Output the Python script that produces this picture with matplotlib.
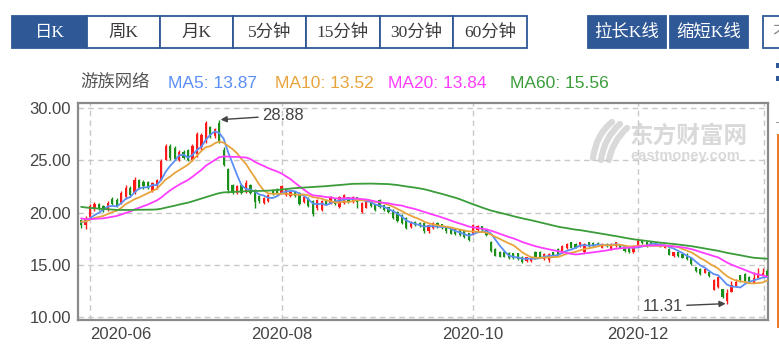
import numpy as np
import matplotlib
matplotlib.use('Agg')
import matplotlib.pyplot as plt
from matplotlib.patches import Rectangle, PathPatch
from matplotlib.path import Path

plt.rcParams['font.family'] = ['Liberation Sans', 'Noto Sans CJK SC', 'DejaVu Sans']

# ---------------- data ----------------
stock_name = '游族网络'
warmup_close = [23.0, 22.8, 22.5, 22.9, 22.6, 22.4, 22.7,
                22.5, 22.1, 22.3, 21.9, 22.4, 22.0, 22.2, 22.6, 22.1, 21.8,
                20.9, 20.2, 19.8, 19.5, 19.3, 19.6, 19.4, 19.1, 19.5, 19.8, 19.6, 19.9, 20.1, 19.7,
                20.2, 20.6, 20.9, 21.2, 21.0, 20.7, 21.1, 20.8, 20.5, 20.9, 20.6, 20.3, 19.9, 19.7,
                19.5, 19.3, 19.0, 19.2, 19.4, 19.1, 18.9, 19.2, 19.4, 19.3, 19.0, 19.1, 19.3, 19.2]

open_ = [19.3, 18.8, 19.6, 20.4, 20.8, 20.6, 20.3, 21.3, 21.2, 20.9, 21.5, 22.4, 21.9, 23.1, 22.9, 22.9,
         22.1, 22.5, 23.1, 25.0, 26.4, 26.2, 25.0, 25.8, 26.0, 25.0, 25.6, 26.3, 26.9, 28.2, 27.3, 28.6,
         26.0, 24.2, 22.6, 21.9, 22.6, 22.0, 22.6, 22.1, 21.6, 20.9, 21.1, 22.2, 22.3, 21.9, 21.7, 21.6,
         22.0, 21.9, 21.0, 21.4, 21.1, 20.4, 20.3, 21.2, 20.9, 21.3, 20.5, 20.9, 21.5, 21.0, 21.5, 20.1,
         20.4, 21.0, 20.8, 21.2, 20.7, 20.5, 20.3, 20.1, 19.8, 19.5, 18.6, 19.1, 19.0, 19.0, 18.2, 18.5,
         19.0, 18.9, 18.7, 18.5, 18.4, 18.3, 18.25, 18.1, 17.9, 18.3, 18.7, 18.3, 17.2, 16.5, 16.25, 16.2,
         16.15, 16.1, 16.1, 15.8, 15.35, 15.4, 16.2, 16.2, 15.55, 15.45, 16.2, 16.5, 16.15, 16.6, 17.15, 17.0,
         16.8, 16.2, 17.15, 17.1, 17.1, 16.65, 17.05, 16.5, 16.8, 16.9, 16.7, 16.7, 16.2, 16.95, 17.35, 17.2,
         17.15, 17.05, 17.05, 16.65, 16.55, 15.85, 16.2, 16.05, 16.0, 15.75, 14.8, 14.65, 14.25, 14.3, 12.65, 12.85,
         12.7, 11.55, 12.45, 12.95, 14.0, 14.1, 13.85, 13.3, 13.8, 13.95, 14.4]
high = [19.4, 19.7, 20.8, 21.0, 20.9, 20.7, 21.1, 21.5, 21.4, 22.1, 22.6, 22.5, 23.4, 23.2, 23.1, 23.0,
        22.9, 23.2, 25.1, 26.6, 26.6, 26.4, 26.0, 26.0, 26.1, 26.6, 27.7, 27.6, 28.75, 28.3, 28.1, 28.88,
        26.3, 24.3, 22.7, 22.6, 22.7, 23.1, 22.7, 22.3, 21.7, 21.5, 21.8, 22.3, 22.4, 22.6, 22.3, 22.1,
        22.1, 22.0, 21.6, 21.5, 21.2, 21.3, 21.2, 21.3, 21.6, 21.3, 21.6, 21.8, 21.5, 21.6, 21.5, 21.0,
        21.2, 21.1, 20.8, 21.3, 20.7, 20.5, 20.35, 20.2, 19.9, 19.6, 19.2, 19.2, 19.1, 19.1, 18.9, 19.1,
        19.1, 18.9, 18.75, 18.6, 18.4, 18.3, 18.3, 18.1, 18.9, 18.85, 18.75, 18.35, 17.3, 16.6, 16.3, 16.3,
        16.2, 16.15, 16.15, 15.85, 15.8, 15.8, 16.3, 16.3, 16.1, 16.1, 16.27, 16.6, 16.9, 17.07, 17.23, 17.07,
        17.23, 17.07, 17.23, 17.2, 17.2, 17.07, 17.07, 17.07, 17.23, 16.91, 16.75, 16.75, 16.91, 17.39, 17.39, 17.23,
        17.23, 17.07, 17.07, 16.91, 16.59, 16.27, 16.27, 16.11, 16.11, 15.8, 14.84, 14.68, 14.68, 14.36, 13.65, 13.95,
        12.75, 12.75, 13.45, 13.65, 14.05, 14.25, 13.9, 14.35, 14.7, 14.7, 14.6]
low = [18.5, 18.4, 19.5, 20.2, 20.3, 20.1, 20.2, 20.7, 20.5, 20.8, 21.3, 21.5, 21.8, 22.3, 22.3, 22.3,
       22.0, 22.3, 23.1, 25.0, 25.0, 25.0, 24.9, 25.1, 24.9, 24.9, 25.3, 26.0, 26.7, 27.1, 27.1, 26.7,
       24.5, 21.9, 21.8, 21.8, 21.8, 21.9, 21.8, 20.4, 20.9, 20.8, 21.0, 21.7, 21.8, 21.8, 21.6, 21.5,
       21.5, 20.7, 20.9, 20.5, 19.7, 20.3, 20.2, 20.7, 20.8, 20.7, 20.4, 20.8, 20.9, 20.9, 20.4, 20.0,
       20.4, 20.5, 20.2, 20.4, 20.2, 20.0, 19.4, 19.1, 18.9, 18.4, 18.5, 18.7, 18.6, 18.1, 18.1, 18.4,
       18.5, 18.4, 18.1, 17.95, 17.9, 17.8, 17.6, 17.3, 17.85, 18.2, 18.2, 17.8, 16.2, 15.85, 15.75, 15.75,
       15.6, 15.6, 15.45, 15.15, 15.3, 15.3, 15.6, 15.65, 15.5, 15.3, 15.8, 15.95, 16.1, 16.55, 16.6, 16.6,
       16.75, 16.1, 16.75, 16.75, 16.9, 16.6, 16.75, 16.43, 16.75, 16.59, 16.27, 16.11, 16.11, 16.91, 17.05, 16.75,
       16.91, 16.91, 16.75, 16.59, 15.96, 15.8, 15.8, 15.64, 15.48, 15.0, 14.36, 14.04, 14.2, 13.89, 12.6, 12.8,
       11.85, 11.31, 12.4, 12.9, 13.4, 13.3, 13.3, 13.25, 13.75, 13.9, 13.85]
close = [18.8, 19.4, 20.6, 20.8, 20.4, 20.3, 20.9, 20.8, 20.6, 21.9, 22.4, 21.7, 23.1, 22.4, 22.5, 22.4,
         22.8, 23.1, 24.9, 26.4, 25.2, 25.1, 25.8, 25.2, 25.0, 26.4, 27.5, 27.4, 28.6, 27.3, 28.0, 26.8,
         24.6, 22.2, 21.9, 22.5, 21.9, 22.8, 21.9, 21.0, 21.1, 21.4, 21.7, 21.8, 21.9, 22.5, 22.2, 22.0,
         21.6, 20.8, 21.5, 20.6, 19.9, 21.2, 21.1, 20.8, 21.5, 20.8, 21.5, 21.7, 21.0, 21.5, 21.0, 20.9,
         21.1, 20.6, 20.3, 20.5, 20.3, 20.1, 19.5, 19.2, 19.0, 18.5, 19.1, 18.8, 18.7, 18.2, 18.8, 19.0,
         18.6, 18.5, 18.2, 18.0, 17.95, 17.9, 17.7, 17.4, 18.8, 18.75, 18.3, 17.9, 16.3, 15.9, 15.8, 15.8,
         15.7, 15.7, 15.55, 15.25, 15.75, 15.75, 15.7, 15.75, 16.05, 16.05, 15.85, 16.0, 16.85, 17.0, 16.65, 16.65,
         17.15, 17.0, 16.8, 16.8, 16.95, 17.0, 16.8, 17.0, 17.15, 16.65, 16.35, 16.2, 16.85, 17.35, 17.1, 16.8,
         16.95, 16.95, 16.8, 16.9, 16.0, 16.25, 15.85, 15.7, 15.55, 15.05, 14.4, 14.1, 14.6, 13.95, 13.6, 13.85,
         11.9, 12.3, 13.1, 13.4, 13.55, 13.5, 13.4, 13.75, 14.1, 14.2, 13.9]

month_labels = ['2020-06', '2020-08', '2020-10', '2020-12']
month_pos = [2, 45, 88, 125]
y_ticks = [10, 15, 20, 25, 30]
ma_windows = [5, 10, 20, 60]
ma_last = [13.87, 13.52, 13.84, 15.56]
ma_colors = ['#5b8ff5', '#e8a43c', '#ff3dff', '#3a9d3a']
peak_value = 28.88
trough_value = 11.31
tab_labels = ['日K', '周K', '月K', '5分钟', '15分钟', '30分钟', '60分钟']
action_labels = ['拉长K线', '缩短K线']

# ---------------- figure ----------------
W, H = 779, 352
fig = plt.figure(figsize=(W / 100, H / 100), dpi=100)
fig.patch.set_facecolor('white')

bg = fig.add_axes([0, 0, 1, 1])
bg.set_xlim(0, W)
bg.set_ylim(H, 0)
bg.axis('off')
bg.set_zorder(0)

blue = '#2f5896'
tab_x = [12, 87, 160, 233, 306, 380, 453, 527]
btn_font = ['Liberation Serif', 'Noto Sans CJK SC']
for k, lab in enumerate(tab_labels):
    x0, x1 = tab_x[k], tab_x[k + 1]
    filled = (k == 0)
    bg.add_patch(Rectangle((x0, 16), x1 - x0, 32, facecolor=blue if filled else 'white',
                           edgecolor=blue, lw=1.3))
    bg.text((x0 + x1) / 2, 32.5, lab, ha='center', va='center', fontsize=12.5,
            family=btn_font, color='white' if filled else '#3a3a3a')
for (x0, x1), lab in zip([(588, 666), (670, 748)], action_labels):
    bg.add_patch(Rectangle((x0, 16), x1 - x0, 32, facecolor=blue, edgecolor=blue, lw=1.3))
    bg.text((x0 + x1) / 2, 32.5, lab, ha='center', va='center', fontsize=12.5,
            family=btn_font, color='white')
bg.add_patch(Rectangle((763.5, 16), 40, 32, facecolor='white', edgecolor=blue, lw=1.3))
bg.text(772, 32.5, '不复权', ha='left', va='center', fontsize=12.5, family=btn_font, color='#888888')
# right-edge decorations
bg.add_patch(Rectangle((776.5, 63), 4, 5, facecolor=blue, edgecolor='none'))
bg.add_patch(Rectangle((776.5, 76), 4, 5, facecolor=blue, edgecolor='none'))
bg.add_patch(Rectangle((776.5, 121.5), 4, 1.2, facecolor='#999999', edgecolor='none'))
bg.add_patch(Rectangle((777.3, 134), 4, 194, facecolor='#f07a2a', edgecolor='none'))

# watermark
wm = '#d9d9d9'
for (p0, p1, p2) in [((593, 158), (596, 135), (612, 122)),
                     ((601, 160), (604, 138), (620, 124)),
                     ((609, 160), (612, 142), (627, 128))]:
    path = Path([p0, p1, p2], [Path.MOVETO, Path.CURVE3, Path.CURVE3])
    bg.add_patch(PathPatch(path, facecolor='none', edgecolor=wm, lw=4.5, capstyle='round'))
bg.text(630, 136, '东方财富网', ha='left', va='center', fontsize=17, fontweight='bold',
        family=['Noto Sans CJK SC'], color=wm)
bg.text(630, 156, 'eastmoney.com', ha='left', va='center', fontsize=10.5, fontweight='bold',
        color=wm)

# legend line
fig.text(80 / W, 1 - 83 / H, stock_name, ha='left', va='center', fontsize=12.5,
         family=['Noto Sans CJK SC'], color='#555555')
leg_x = [168, 275, 388, 510]
for w, v, c, lx in zip(ma_windows, ma_last, ma_colors, leg_x):
    fig.text(lx / W, 1 - 83 / H, f'MA{w}: {v:.2f}', ha='left', va='center',
             fontsize=12.5, color=c)

# ---------------- main axes ----------------
ax = fig.add_axes([78 / W, 1 - 320 / H, (768 - 78) / W, (320 - 103) / H])
ax.set_zorder(2)
ax.set_facecolor('none')

n = len(close)
xs = np.arange(n)
o = np.array(open_); c = np.array(close); hi = np.array(high); lo = np.array(low)
up = c >= o
col = np.where(up, '#ff1a1a', '#1a8f1a')

ax.vlines(xs, lo, hi, colors=col, lw=1.0, zorder=3)
body_h = np.maximum(np.abs(c - o), 0.06)
ax.bar(xs, body_h, bottom=np.minimum(o, c), width=0.5, color=col, lw=0, zorder=3)

full = np.array(warmup_close + close)
for w, colr in zip(ma_windows, ma_colors):
    ma = np.convolve(full, np.ones(w) / w, mode='valid')
    ma = ma[-n:]
    ax.plot(xs, ma, color=colr, lw=1.3, zorder=4, solid_capstyle='round')

ax.set_xlim(-0.7, 154.2)
ax.set_ylim(9.74, 30.48)
ax.set_yticks(y_ticks)
ax.set_yticklabels([f'{t:.2f}' for t in y_ticks])
ax.set_xticks(month_pos)
ax.set_xticklabels(month_labels)
ax.get_xticklabels()[0].set_ha('left')
ax.tick_params(length=0, labelsize=12, labelcolor='#444444')
ax.tick_params(axis='y', pad=5)
ax.tick_params(axis='x', pad=5)
ax.grid(True, color='#c8c8c8', lw=1.0, linestyle=(0, (4, 3)))
ax.set_axisbelow(True)
ax.axvline(153.4, color='#c8c8c8', lw=1.0, linestyle=(0, (4, 3)), zorder=1)
for s in ax.spines.values():
    s.set_color('#8a8a8a')
    s.set_linewidth(1.6)

# annotations
jp = int(np.argmax(hi))
ax.annotate(f'{peak_value:.2f}', xy=(jp, peak_value), xytext=(31, 3), textcoords='offset points',
            ha='left', va='center', fontsize=12, color='#444444',
            arrowprops=dict(arrowstyle='-|>', color='#444444', lw=1.0, mutation_scale=9,
                            shrinkA=1, shrinkB=1))
jt = int(np.argmin(lo))
ax.annotate(f'{trough_value:.2f}', xy=(jt, trough_value), xytext=(-32, -2), textcoords='offset points',
            ha='right', va='center', fontsize=12, color='#444444',
            arrowprops=dict(arrowstyle='-|>', color='#444444', lw=1.0, mutation_scale=9,
                            shrinkA=1, shrinkB=1))

fig.savefig('out.png', dpi=100)
